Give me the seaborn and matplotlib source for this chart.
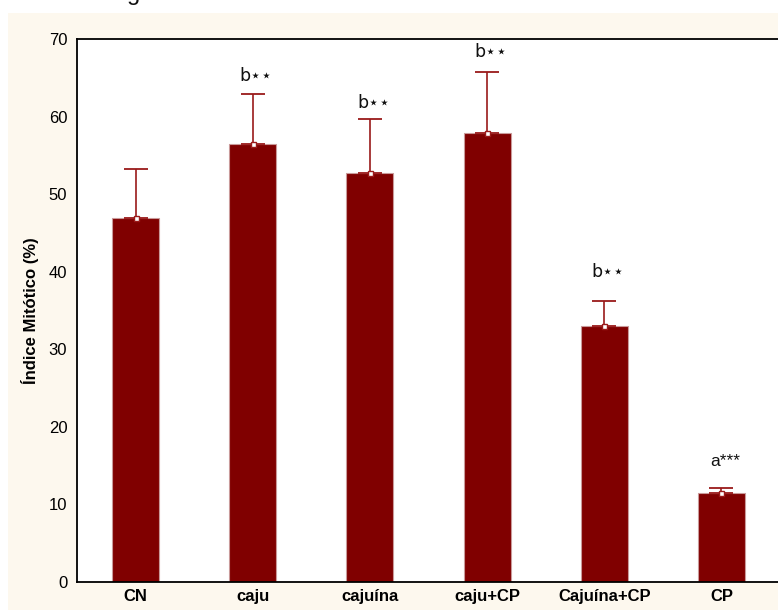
import matplotlib
matplotlib.use("Agg")
import matplotlib.pyplot as plt
import seaborn as sns
import numpy as np
import pandas as pd
from matplotlib.patches import Rectangle

categories = ["CN", "caju", "cajuína", "caju+CP", "Cajuína+CP", "CP"]
means = [46.9, 56.4, 52.7, 57.9, 33.0, 11.5]
upper = [53.3, 62.9, 59.7, 65.8, 36.2, 12.1]
labels = ["", "b⋆⋆", "b⋆⋆", "b⋆⋆", "b⋆⋆", "a***"]
yticks = [0, 10, 20, 30, 40, 50, 60, 70]

sns.set_theme(style="white")
plt.rcParams["font.family"] = ["Liberation Sans", "DejaVu Sans"]
plt.rcParams["text.color"] = "black"
plt.rcParams["axes.labelcolor"] = "black"
plt.rcParams["xtick.color"] = "black"
plt.rcParams["ytick.color"] = "black"

fig = plt.figure(figsize=(7.78, 6.10), dpi=100)
fig.patch.set_facecolor("white")
fig.patches.append(Rectangle((8 / 778, 0), 1, (610 - 13) / 610,
                             transform=fig.transFigure, facecolor="#FDF8EE",
                             edgecolor="none", zorder=-10))
# descender of a title that is cut off at the top edge
fig.text(127 / 778, 1.0, "g", va="baseline", ha="left", fontsize=17, color="#111111")

ax = fig.add_axes([77 / 778, 28 / 610, (780 - 77) / 778, (582 - 39) / 610])
ax.set_facecolor("white")

df = pd.DataFrame({"cat": categories, "mean": means})
sns.barplot(data=df, x="cat", y="mean", color="#800000", saturation=1,
            width=0.4, ax=ax, edgecolor="#C99A9A", linewidth=0.8, errorbar=None)

x = np.arange(len(categories))
m = np.array(means)
err = np.array(upper) - m
ax.errorbar(x, m, yerr=[np.zeros_like(err), err], fmt="none",
            ecolor="#9A1A1A", elinewidth=1.2, capsize=8.3, capthick=1.3, zorder=5)
ax.plot(x, m, "s", markersize=3.6, markerfacecolor="white",
        markeredgecolor="#9A1A1A", markeredgewidth=1.0, zorder=6, linestyle="none")

offsets = [0, 2.3, 2.1, 2.5, 3.7, 3.4]
for i, lab in enumerate(labels):
    if lab:
        ax.text(x[i] + 0.03, upper[i] + offsets[i], lab, ha="center", va="center",
                fontsize=12.5, color="#111111",
                family=["DejaVu Sans"] if "⋆" in lab else ["Liberation Sans"])

ax.set_xlim(-0.5, 5.5)
ax.set_ylim(0, 70)
ax.set_yticks(yticks)
ax.set_yticklabels([str(t) for t in yticks], fontsize=12)
ax.set_xticks(x)
ax.set_xticklabels(categories, fontsize=12, fontweight="bold")
ax.tick_params(axis="x", direction="in", length=4, width=1, color="black", pad=5)
ax.tick_params(axis="y", length=0, pad=7)
ax.set_xlabel("")
ax.set_ylabel("Índice Mitótico (%)", fontsize=12, fontweight="bold", labelpad=7)
for s in ["left", "top", "bottom", "right"]:
    ax.spines[s].set_visible(True)
    ax.spines[s].set_color("black")
    ax.spines[s].set_linewidth(1.3)

fig.savefig("out.png", dpi=100, facecolor=fig.get_facecolor())
